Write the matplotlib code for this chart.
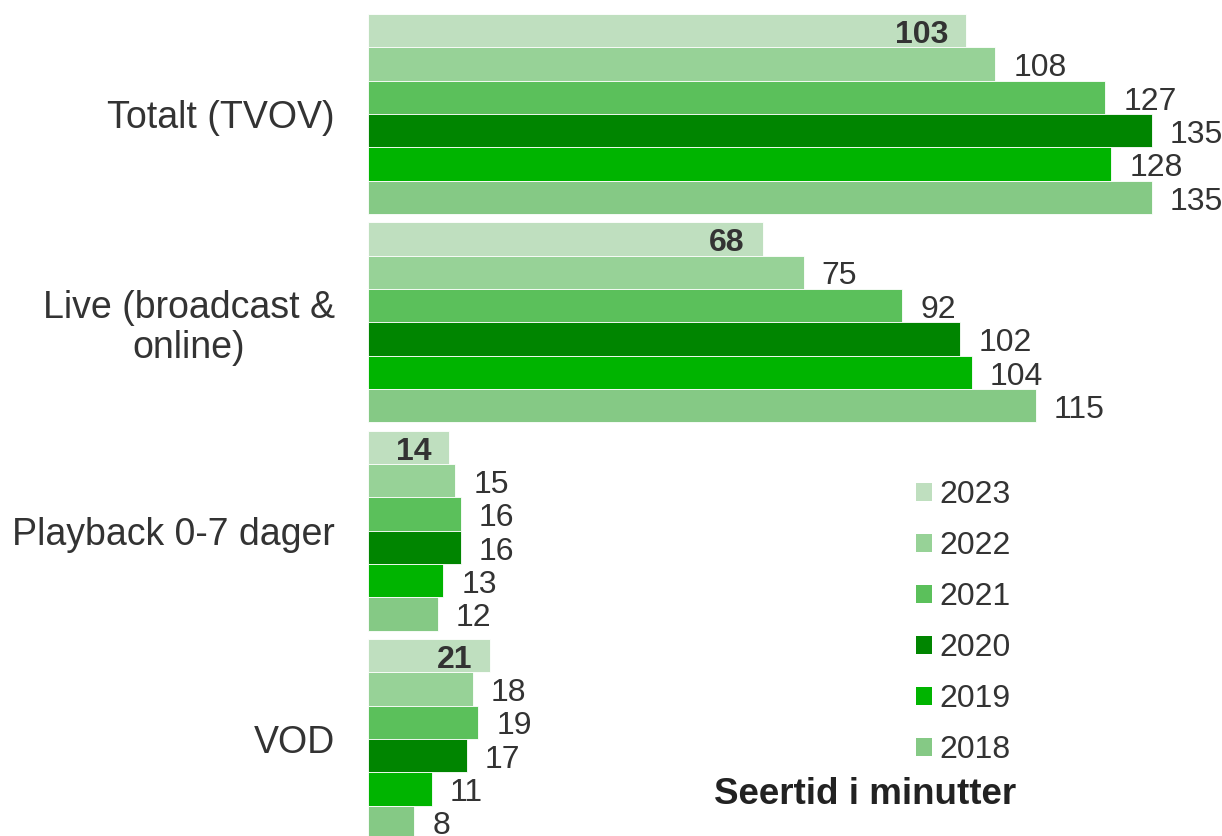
import numpy as np
import matplotlib.pyplot as plt
from matplotlib.patches import Patch

plt.rcParams['font.family'] = ['Liberation Sans', 'DejaVu Sans']

# data
categories = ['Totalt (TVOV)', 'Live (broadcast &\nonline)', 'Playback 0-7 dager', 'VOD']
years = ['2023', '2022', '2021', '2020', '2019', '2018']
v2023 = [103, 68, 14, 21]
v2022 = [108, 75, 15, 18]
v2021 = [127, 92, 16, 19]
v2020 = [135, 102, 16, 17]
v2019 = [128, 104, 13, 11]
v2018 = [135, 115, 12, 8]
series = [v2023, v2022, v2021, v2020, v2019, v2018]
colors = ['#BFDFBF', '#97D297', '#5BC05B', '#008500', '#00B400', '#85C985']

txt = '#333333'
W, H = 1222, 836
fig = plt.figure(figsize=(W / 100, H / 100), dpi=100)
ax = fig.add_axes([368 / W, -3 / H, (W - 368) / W, 825 / H])

pitch = 6.25
for i, (vals, c) in enumerate(zip(series, colors)):
    y = np.arange(len(categories)) * pitch + i + 0.5
    ax.barh(y, vals, height=1.0, color=c, edgecolor='white', linewidth=0.6)
    for yy, v in zip(y, vals):
        if i == 0:
            ax.annotate(str(v), (v, yy), xytext=(-13, -3), textcoords='offset points',
                        ha='right', va='center', fontsize=23, fontweight='bold', color=txt)
        else:
            ax.annotate(str(v), (v, yy), xytext=(13, -3), textcoords='offset points',
                        ha='left', va='center', fontsize=23, color=txt)

ax.set_xlim(0, (W - 368) / 5.807)
ax.set_ylim(3 * pitch + 6, 0)
centers = np.arange(len(categories)) * pitch + 3
ax.set_yticks(centers)
ax.set_yticklabels(categories, fontsize=27, color=txt, multialignment='center',
                   linespacing=1.12)
ax.tick_params(axis='y', length=0, pad=24)
ax.set_xticks([])
for s in ax.spines.values():
    s.set_visible(False)

handles = [Patch(facecolor=c, edgecolor='none', label=y) for y, c in zip(years, colors)]
fig.legend(handles=handles, loc='upper left', bbox_to_anchor=(916 / W, 1 - 480 / H),
           frameon=False, fontsize=23, handlelength=0.5, handleheight=0.5,
           handletextpad=0.22, labelspacing=0.66, borderaxespad=0, borderpad=0,
           labelcolor=txt)
fig.text(1016 / W, 1 - 794 / H, 'Seertid i minutter', ha='right', va='center',
         fontsize=26.5, fontweight='bold', color='#222222')

plt.savefig('out.png', dpi=100)
